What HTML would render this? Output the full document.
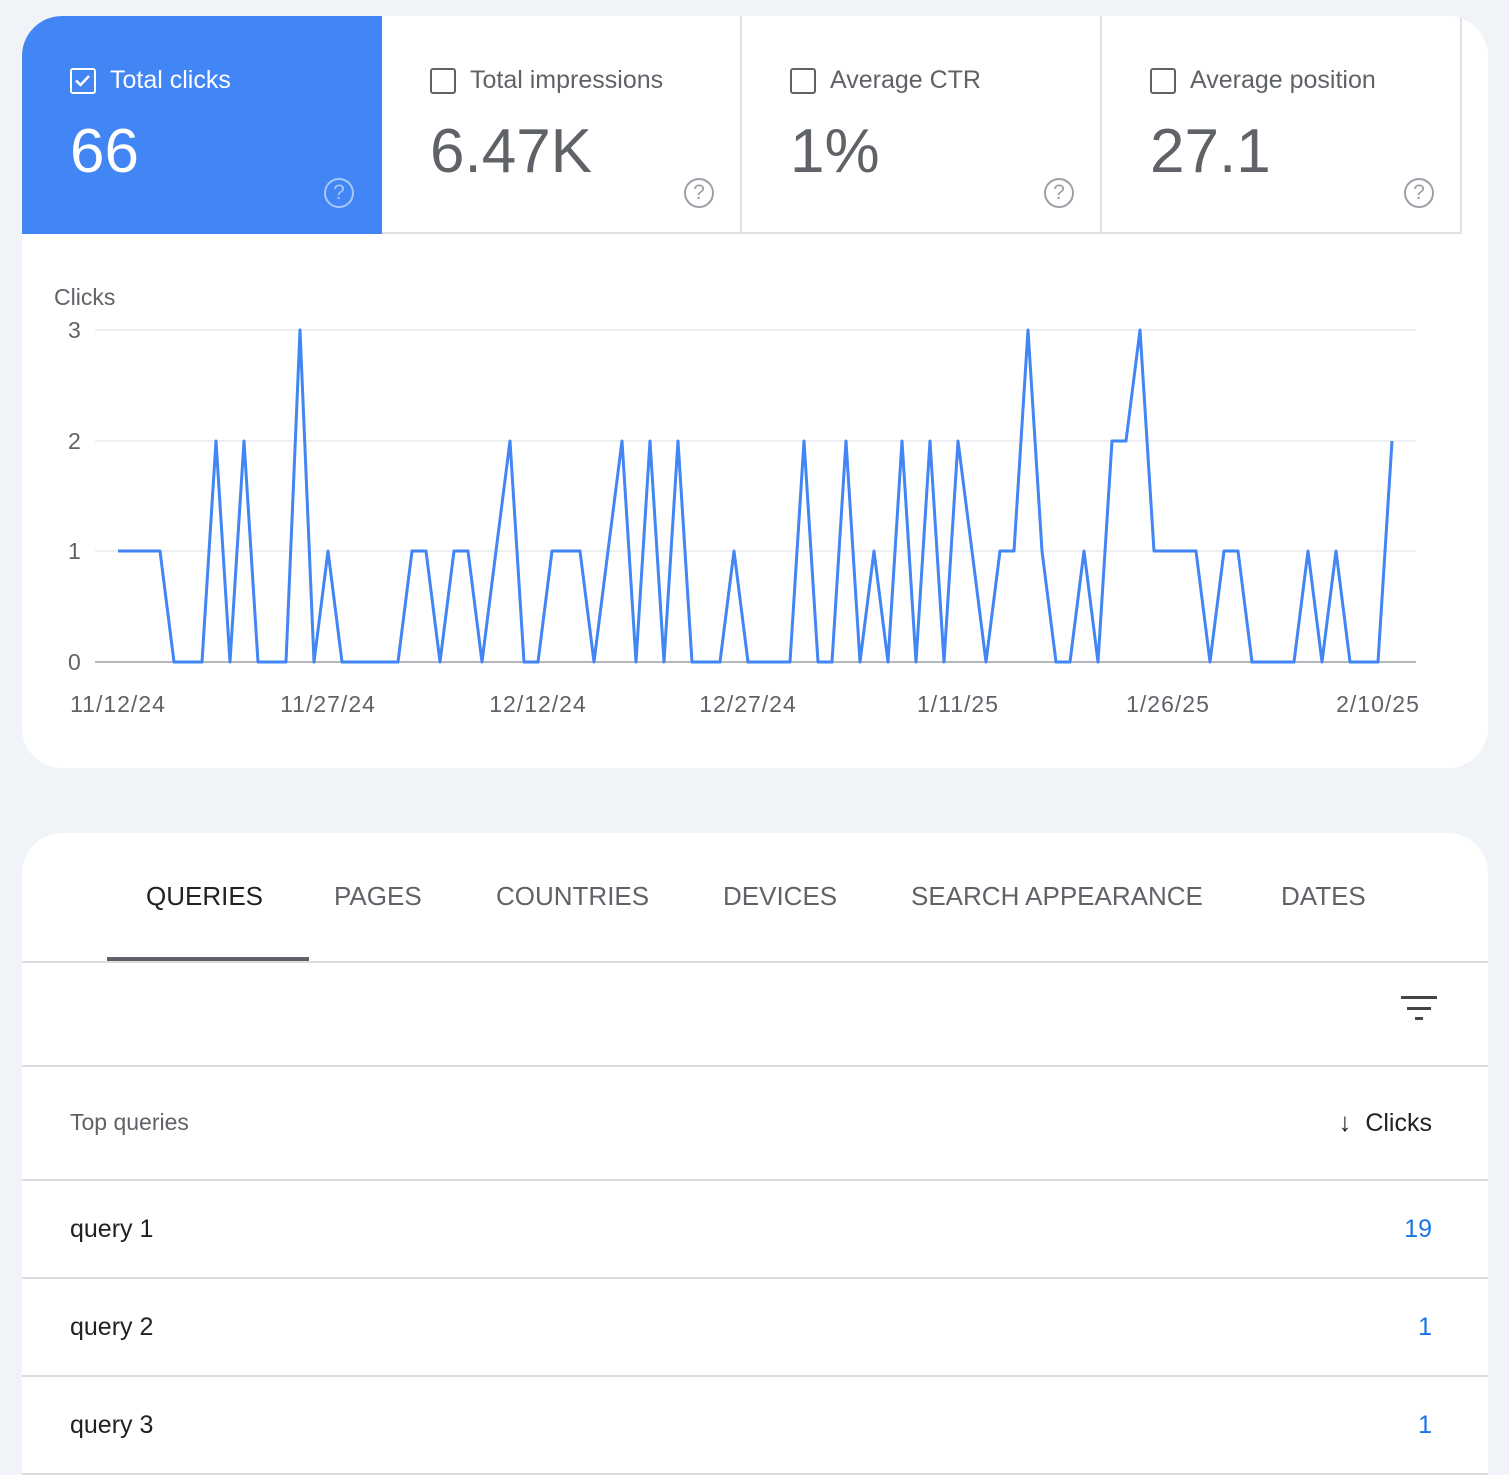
<!DOCTYPE html>
<html><head><meta charset="utf-8">
<style>
*{box-sizing:border-box;margin:0;padding:0}
html,body{width:1509px;height:1475px;overflow:hidden}
body{background:#f0f4f8;font-family:"Liberation Sans",Arial,sans-serif;position:relative}
.card1{position:absolute;left:22px;top:16px;width:1466px;height:752px;background:#fff;border-radius:40px;overflow:hidden}
.tile{position:absolute;top:0;height:218px;width:360px;border-right:2px solid #e0e0e0;border-bottom:2px solid #e0e0e0;background:#fff}
.tile .lab{position:absolute;left:48px;top:50px;font-size:25px;color:#5f6368;display:flex;align-items:center}
.cb{width:26px;height:26px;border:2.5px solid #5f6368;border-radius:3px;margin-right:14px;position:relative}
.tile .val{position:absolute;left:48px;top:100px;font-size:62px;color:#5f6368}
.q{position:absolute;left:302px;top:162px;width:30px;height:30px;border:2.5px solid #9aa0a6;border-radius:50%;color:#9aa0a6;font-size:21px;text-align:center;line-height:25px}
.blue{background:#4285f4;border:none;height:218px;width:360px}
.blue .lab,.blue .val{color:#fff}
.blue .cb{border-color:#fff}
.blue .q{border-color:#a8c7fa;color:#a8c7fa}
.card2{position:absolute;left:22px;top:833px;width:1466px;height:642px;background:#fff;border-radius:40px 40px 0 0}
.tab{position:absolute;top:48px;font-size:26px;color:#5f6368}
.hr{position:absolute;left:0;width:1466px;height:2px;background:#dadce0}
.row{position:absolute;left:48px;font-size:25px;color:#202124}
.num{position:absolute;right:56px;font-size:25px;color:#1a73e8}
</style></head><body>
<div class="card1">
  <div class="tile blue" style="left:0"><div class="lab"><div class="cb"><svg width="21" height="21" viewBox="0 0 21 21" style="position:absolute;left:0;top:0"><path d="M4 10.5l4.5 4.5 8.5-9" stroke="#fff" stroke-width="2.5" fill="none"/></svg></div>Total clicks</div><div class="val">66</div><div class="q">?</div></div>
  <div class="tile" style="left:360px"><div class="lab"><div class="cb"></div>Total impressions</div><div class="val">6.47K</div><div class="q">?</div></div>
  <div class="tile" style="left:720px"><div class="lab"><div class="cb"></div>Average CTR</div><div class="val">1%</div><div class="q">?</div></div>
  <div class="tile" style="left:1080px"><div class="lab"><div class="cb"></div>Average position</div><div class="val">27.1</div><div class="q">?</div></div>
</div>
<svg style="position:absolute;left:0;top:0" width="1509" height="780">
  <g font-family="Liberation Sans,Arial,sans-serif" fill="#5f6368" font-size="23">
    <text x="54" y="305">Clicks</text>
    <text x="68" y="338">3</text><text x="68" y="449">2</text><text x="68" y="559">1</text><text x="68" y="670">0</text>
    <g text-anchor="middle" letter-spacing="1">
    <text x="118" y="712">11/12/24</text><text x="328" y="712">11/27/24</text><text x="538" y="712">12/12/24</text><text x="748" y="712">12/27/24</text><text x="958" y="712">1/11/25</text><text x="1168" y="712">1/26/25</text><text x="1378" y="712">2/10/25</text>
    </g>
  </g>
  <g stroke="#e8eaed" stroke-width="1.5"><line x1="95" y1="330" x2="1416" y2="330"/><line x1="95" y1="441" x2="1416" y2="441"/><line x1="95" y1="551" x2="1416" y2="551"/></g>
  <line x1="95" y1="662" x2="1416" y2="662" stroke="#9aa0a6" stroke-width="1.5"/>
  <polyline fill="none" stroke="#4285f4" stroke-width="3" stroke-linejoin="round" points="118,551 132,551 146,551 160,551 174,662 188,662 202,662 216,441 230,662 244,441 258,662 272,662 286,662 300,330 314,662 328,551 342,662 356,662 370,662 384,662 398,662 412,551 426,551 440,662 454,551 468,551 482,662 496,551 510,441 524,662 538,662 552,551 566,551 580,551 594,662 608,551 622,441 636,662 650,441 664,662 678,441 692,662 706,662 720,662 734,551 748,662 762,662 776,662 790,662 804,441 818,662 832,662 846,441 860,662 874,551 888,662 902,441 916,662 930,441 944,662 958,441 972,551 986,662 1000,551 1014,551 1028,330 1042,551 1056,662 1070,662 1084,551 1098,662 1112,441 1126,441 1140,330 1154,551 1168,551 1182,551 1196,551 1210,662 1224,551 1238,551 1252,662 1266,662 1280,662 1294,662 1308,551 1322,662 1336,551 1350,662 1364,662 1378,662 1392,441"/>
</svg>
<div class="card2">
  <div class="tab" style="left:124px;color:#202124">QUERIES</div>
  <div class="tab" style="left:312px">PAGES</div>
  <div class="tab" style="left:474px">COUNTRIES</div>
  <div class="tab" style="left:701px">DEVICES</div>
  <div class="tab" style="left:889px">SEARCH APPEARANCE</div>
  <div class="tab" style="left:1259px">DATES</div>
  <div style="position:absolute;left:85px;top:124px;width:202px;height:4px;background:#5f6368"></div>
  <div class="hr" style="top:128px"></div>
  <div style="position:absolute;left:1379px;top:163px;width:36px;height:3px;background:#444"></div>
  <div style="position:absolute;left:1385px;top:174px;width:24px;height:3px;background:#444"></div>
  <div style="position:absolute;left:1393px;top:184px;width:8px;height:3px;background:#444"></div>
  <div class="hr" style="top:232px"></div>
  <div class="row" style="top:276px;font-size:23px;color:#5f6368">Top queries</div>
  <div style="position:absolute;right:56px;top:274px;font-size:25px;color:#202124"><span style="font-size:26px;margin-right:14px">↓</span>Clicks</div>
  <div class="hr" style="top:346px"></div>
  <div class="row" style="top:382px">query 1</div><div class="num" style="top:382px">19</div>
  <div class="hr" style="top:444px"></div>
  <div class="row" style="top:480px">query 2</div><div class="num" style="top:480px">1</div>
  <div class="hr" style="top:542px"></div>
  <div class="row" style="top:578px">query 3</div><div class="num" style="top:578px">1</div>
  <div class="hr" style="top:640px"></div>
</div>
</body></html>
